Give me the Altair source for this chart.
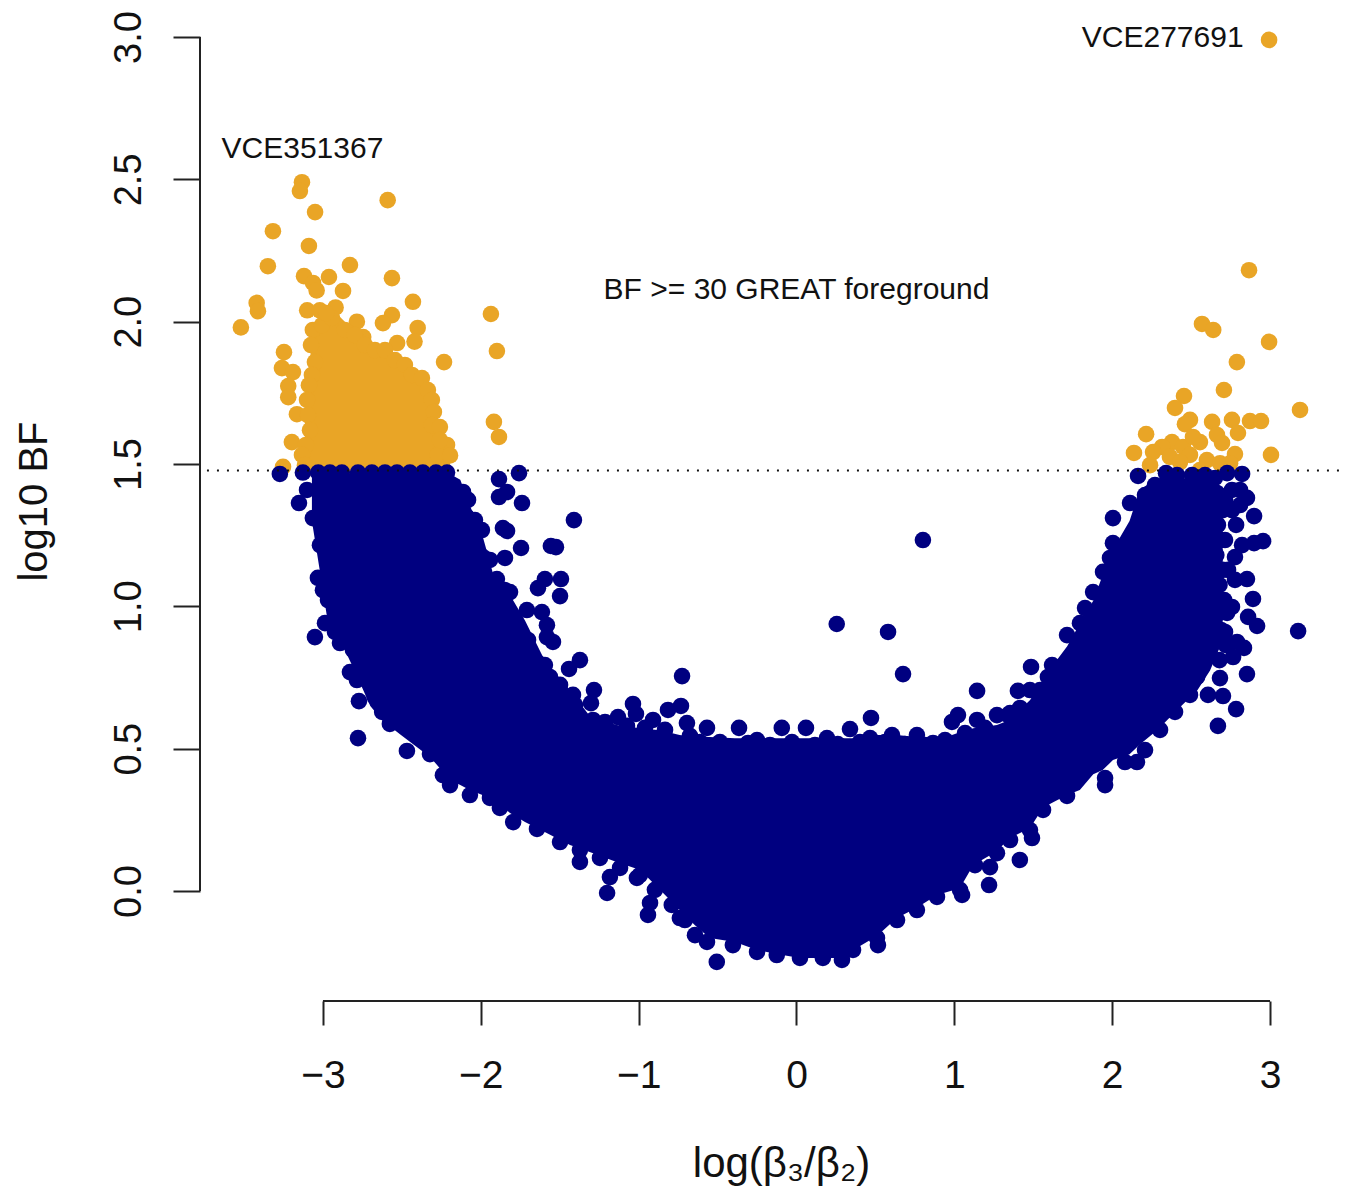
import altair as alt
import pandas as pd

FONT = "Liberation Sans"
ORANGE = "#E9A526"
NAVY = "#000080"
THRESHOLD = 1.477
POINT_SIZE = 275

# ---- gold points (log ratio, log10 BF)
gold_left_outliers = [
    (-3.133,2.49),(-3.146,2.459),(-3.05,2.385),(-2.59,2.427),(-3.317,2.318),(-3.089,2.266),(-3.349,2.195),
    (-2.829,2.199),(-3.12,2.16),(-2.962,2.157),(-2.563,2.153),(-3.063,2.136),(-2.873,2.108),(-3.04,2.11),
    (-3.42,2.066),(-3.412,2.037),(-3.52,1.98),(-2.43,2.07),(-3.10,2.04),(-3.02,2.04),(-2.92,2.05),
    (-2.563,2.023),(-2.62,1.995),(-2.40,1.978),(-2.42,1.93),(-2.53,1.925),(-2.785,2.0),(-2.745,1.946),
    (-3.247,1.893),(-3.26,1.837),(-3.19,1.823),(-2.233,1.858),(-3.22,1.774),(-3.22,1.735),(-3.165,1.675),
    (-3.197,1.577),(-3.253,1.49),(-1.936,2.027),(-1.898,1.897),(-1.917,1.648),(-1.885,1.595),
]
gold_left_edge = [
    (-3.064,1.971),(-3.076,1.918),(-3.051,1.858),(-3.07,1.813),(-3.089,1.777),(-3.101,1.725),(-3.095,1.672),
    (-3.082,1.619),(-3.108,1.567),(-3.133,1.532),(-3.114,1.496),(-3.006,1.988),(-2.943,2.013),(-2.98,2.03),(-2.861,1.971),
    (-2.798,1.953),(-2.734,1.918),(-2.671,1.9),(-2.607,1.9),(-2.544,1.865),(-2.481,1.848),(-2.436,1.813),
    (-2.373,1.802),(-2.335,1.76),(-2.31,1.725),(-2.297,1.683),(-2.31,1.637),(-2.259,1.63),(-2.214,1.567),
    (-2.272,1.532),(-2.195,1.53),(-2.259,1.584),
]
gold_right = [
    (2.994,2.99),(2.867,2.181),(2.569,1.992),(2.64,1.971),(2.994,1.929),(2.79,1.858),(2.708,1.76),(2.455,1.739),
    (2.398,1.697),(3.19,1.69),(2.493,1.655),(2.633,1.648),(2.759,1.655),(2.873,1.651),(2.943,1.651),(2.797,1.609),
    (2.461,1.64),(2.215,1.605),(2.664,1.602),(2.556,1.577),(2.696,1.574),(2.379,1.577),(2.316,1.56),(2.259,1.542),
    (2.138,1.539),(2.449,1.56),(2.512,1.595),(2.778,1.535),(3.006,1.532),(2.24,1.496),(2.366,1.525),(2.493,1.532),
    (2.6,1.514),(2.683,1.503),(2.747,1.503),(2.43,1.507),(2.556,1.479),
]
# filled core of the gold cloud: (ratio, upper value)
gold_core = [
    (-3.114,1.69),(-3.07,1.936),(-3.006,2.013),(-2.924,2.034),(-2.861,2.0),(-2.778,1.964),(-2.715,1.936),(-2.639,1.9),
    (-2.544,1.858),(-2.449,1.813),(-2.354,1.76),(-2.322,1.707),(-2.291,1.644),(-2.227,1.584),(-2.195,1.521),
]

# ---- navy points
navy_threshold_row = [
    (-3.127,1.47),(-3.03,1.47),(-2.956,1.47),(-2.88,1.47),(-2.778,1.47),(-2.69,1.47),(-2.607,1.47),(-2.531,1.47),
    (-2.449,1.47),(-2.367,1.47),(-2.284,1.47),(-2.214,1.47),
]
navy_left_upper = [
    (-2.113,1.402),(-2.081,1.374),(-2.088,1.314),(-1.993,1.268),(-1.986,1.173),(-1.898,1.096),(-1.815,1.05),
    (-1.708,0.987),(-1.771,0.917),(-1.613,0.98),(-1.581,0.934),(-1.581,0.892),(-1.543,0.875),(-1.644,0.804),
    (-1.562,0.752),(-1.403,0.653),(-1.498,0.724),(-1.594,0.794),(-1.701,0.882),(-1.847,1.057),(-1.942,1.163),
    (-2.037,1.303),
]
navy_top_band = [
    (-0.611,0.523),(-0.485,0.523),(-0.307,0.52),(-0.168,0.513),(-0.029,0.523),(0.117,0.513),(0.261,0.516),
    (0.402,0.523),(0.561,0.523),(0.687,0.516),(0.814,0.513),(0.941,0.53),(-1.213,0.594),(-1.074,0.58),
    (-0.96,0.573),(-0.833,0.566),(-0.675,0.545),(1.068,0.555),(1.194,0.573),(1.416,0.643),(1.543,0.706),
]
navy_lower_edge = [
    (-3.101,1.409),(-3.152,1.363),(-3.064,1.31),(-3.019,1.215),(-3.032,1.1),(-3.0,1.057),(-2.968,1.022),(-2.987,0.941),
    (-2.924,0.91),(-2.892,0.871),(-2.81,0.847),(-2.829,0.769),(-2.785,0.741),(-2.671,0.681),(-2.625,0.629),(-2.576,0.587),
    (-2.322,0.481),(-2.24,0.407),(-2.195,0.372),(-2.069,0.337),(-1.942,0.327),(-1.879,0.292),(-1.795,0.242),(-1.644,0.218),
    (-1.498,0.172),(-1.372,0.144),(-1.245,0.116),(-1.118,0.081),(-0.992,0.056),(-0.897,0.004),(-0.79,-0.049),(-0.707,-0.102),
    (-0.643,-0.155),(-0.567,-0.179),(-0.403,-0.19),(-0.25,-0.214),(-0.125,-0.225),(0.022,-0.235),(0.167,-0.235),(0.288,-0.242),
    (0.358,-0.207),(0.51,-0.165),(0.637,-0.102),(0.763,-0.067),(0.89,-0.021),(1.036,0.004),(1.131,0.091),(1.27,0.133),
    (1.353,0.179),(1.479,0.214),(1.562,0.285),(1.714,0.334),(1.955,0.397),(2.081,0.453),(2.208,0.495),(2.303,0.566),
    (2.398,0.629),(2.493,0.689),(2.538,0.752),
]
navy_low_outliers = [
    (-1.372,0.102),(-1.2,-0.007),(-1.182,0.049),(-1.011,0.046),(-0.941,-0.084),(-0.928,-0.042),(-0.739,-0.095),(-0.505,-0.249),
    (0.516,-0.19),(1.049,-0.014),(1.22,0.021),(1.226,0.084),(1.415,0.109),(1.492,0.186),(1.955,0.372),(2.157,0.453),
    (-2.778,0.537),(-2.772,0.667),(-2.468,0.492),(-3.051,0.892),
]
navy_high_outliers = [
    (-3.273,1.465),(-1.885,1.447),(-1.758,1.468),(-1.834,1.402),(-1.885,1.384),(-1.739,1.363),(-1.41,1.303),(-1.86,1.275),
    (-1.834,1.265),(-1.745,1.205),(-1.847,1.17),(-1.556,1.212),(-1.524,1.208),(-1.594,1.096),(-1.492,1.096),(-1.638,1.064),
    (-1.498,1.036),(-1.372,0.811),(-1.441,0.78),(-1.283,0.706),(-1.302,0.66),(-1.416,0.689),(-1.289,0.601),(-1.036,0.657),
    (-1.131,0.611),(-1.017,0.622),(-0.909,0.601),(-0.814,0.636),(-0.732,0.65),(-0.725,0.755),(-0.694,0.59),(-0.567,0.573),
    (-0.364,0.573),(-0.25,0.53),(-0.093,0.573),(0.06,0.573),(0.193,0.537),(0.339,0.569),(0.472,0.608),(0.466,0.537),
    (0.605,0.548),(0.763,0.548),(0.865,0.52),(0.985,0.594),(1.023,0.618),(1.144,0.601),(1.27,0.618),(1.34,0.618),
    (1.144,0.703),(0.675,0.762),(0.58,0.91),(0.255,0.938),(0.801,1.233),
]
navy_right_upper = [
    (1.486,0.787),(1.403,0.703),(1.479,0.706),(1.353,0.625),(1.619,0.794),(1.593,0.752),(1.714,0.899),(1.796,0.941),
    (1.828,0.994),(1.879,1.05),(1.942,1.121),(1.986,1.17),(2.005,1.222),(2.005,1.31),(2.113,1.363),(2.164,1.458),
    (2.208,1.391),(2.271,1.426),(2.341,1.468),(2.411,1.461),(2.506,1.461),(2.588,1.461),(2.651,1.451),(2.728,1.468),(2.823,1.465),
]
navy_right_side = [
    (2.854,1.381),(2.899,1.317),(2.785,1.286),(2.823,1.215),(2.899,1.222),(2.956,1.229),(2.778,1.173),(2.854,1.096),
    (2.778,1.093),(2.892,1.026),(2.861,0.963),(2.918,0.931),(3.178,0.913),(2.759,0.998),(2.728,0.977),(2.715,0.91),
    (2.791,0.875),(2.835,0.854),(2.766,0.822),(2.683,0.748),(2.854,0.762),(2.702,0.685),(2.607,0.689),(2.785,0.639),
    (2.67,0.58),(2.759,1.338),(2.715,1.233),(2.734,1.128),(2.81,1.409),(2.759,1.409),(2.81,1.356),(2.715,1.374),
    (2.68,1.391),(2.70,1.338),(2.67,1.286),(2.69,1.233),(2.66,1.18),(2.70,1.128),(2.68,1.075),(2.71,1.022),
    (2.66,0.97),(2.69,0.917),(2.72,0.864),(2.68,0.811),
]
# filled core of the navy cloud: (ratio, upper value, lower value)
navy_core = [
    (-3.07,1.45,1.30),(-3.02,1.465,1.125),(-2.975,1.465,0.965),(-2.89,1.465,0.88),(-2.80,1.465,0.775),(-2.70,1.465,0.65),
    (-2.625,1.465,0.60),(-2.51,1.465,0.55),(-2.32,1.465,0.47),(-2.195,1.465,0.39),(-2.13,1.445,0.372),(-2.07,1.355,0.355),
    (-1.99,1.25,0.337),(-1.91,1.09,0.32),(-1.815,1.04,0.274),(-1.72,0.95,0.242),(-1.595,0.81,0.207),(-1.435,0.705,0.162),
    (-1.31,0.615,0.137),(-1.14,0.583,0.102),(-0.99,0.572,0.074),(-0.865,0.565,0.004),(-0.74,0.548,-0.067),(-0.645,0.541,-0.119),
    (-0.55,0.541,-0.165),(-0.39,0.537,-0.179),(-0.25,0.537,-0.207),(-0.125,0.537,-0.221),(0.02,0.537,-0.235),(0.17,0.537,-0.235),
    (0.29,0.537,-0.235),(0.36,0.537,-0.207),(0.51,0.548,-0.158),(0.635,0.548,-0.095),(0.76,0.541,-0.06),(0.89,0.53,-0.014),
    (1.035,0.558,0.01),(1.12,0.572,0.091),(1.27,0.583,0.14),(1.35,0.601,0.186),(1.48,0.671,0.221),(1.56,0.741,0.292),
    (1.62,0.79,0.31),(1.715,0.86,0.337),(1.795,0.94,0.355),(1.88,1.02,0.41),(1.94,1.11,0.425),(2.005,1.20,0.46),
    (2.11,1.30,0.48),(2.175,1.41,0.515),(2.285,1.45,0.565),(2.41,1.45,0.635),(2.54,1.45,0.705),(2.62,1.445,0.775),
    (2.70,1.42,0.88),
]

annotations = [
    (-3.13, 2.607, "VCE351367"),
    (2.32, 2.996, "VCE277691"),
    (0.0, 2.112, "BF >= 30 GREAT foreground"),
]

x_ticks = [-3, -2, -1, 0, 1, 2, 3]
y_ticks = [0.0, 0.5, 1.0, 1.5, 2.0, 2.5, 3.0]

X_SCALE = alt.Scale(domain=[-3.779, 3.456], nice=False, zero=False)
Y_SCALE = alt.Scale(domain=[-0.3864, 3.102], nice=False, zero=False)

x_axis = alt.Axis(
    values=x_ticks, format="d", title="log(β₃/β₂)", domain=False, grid=False,
    tickSize=24, tickWidth=2, tickColor="#222222", labelFont=FONT, labelFontSize=39, labelColor="#111111",
    labelPadding=31, titleFont=FONT, titleFontSize=42, titleFontWeight="normal", titleColor="#111111",
    titlePadding=48, titleX=581,
)
y_axis = alt.Axis(
    values=y_ticks, format=".1f", title="log10 BF", domain=False, grid=False,
    tickSize=27, tickWidth=2, tickColor="#222222", labelFont=FONT, labelFontSize=38, labelColor="#111111",
    labelAngle=270, labelAlign="center", labelBaseline="alphabetic", labelPadding=33,
    titleFont=FONT, titleFontSize=40, titleFontWeight="normal", titleColor="#111111", titlePadding=56, titleY=493,
)


def pts(rows):
    return pd.DataFrame(rows, columns=["x", "y"])


def xq():
    return alt.X("x:Q", scale=X_SCALE, axis=x_axis)


def yq():
    return alt.Y("y:Q", scale=Y_SCALE, axis=y_axis)


gold_area = alt.Chart(pts(gold_core)).mark_area(color=ORANGE).encode(
    x=xq(), y=yq(), y2=alt.Y2(datum=1.46))
gold_pts = alt.Chart(pts(gold_left_outliers + gold_left_edge + gold_right)).mark_circle(
    size=POINT_SIZE, opacity=1, color=ORANGE).encode(x=xq(), y=yq())

navy_area = alt.Chart(pd.DataFrame(navy_core, columns=["x", "y", "y2"])).mark_area(color=NAVY).encode(
    x=xq(), y=yq(), y2="y2:Q")
navy_pts = alt.Chart(pts(navy_threshold_row + navy_left_upper + navy_top_band + navy_lower_edge + navy_low_outliers
                         + navy_high_outliers + navy_right_upper + navy_right_side)).mark_circle(
    size=POINT_SIZE, opacity=1, color=NAVY).encode(x=xq(), y=yq())

threshold = alt.Chart(pd.DataFrame({"x": [-3.735], "x2": [3.45], "y": [THRESHOLD]})).mark_rule(
    color="#111111", strokeWidth=2, strokeDash=[2, 8]).encode(x=xq(), x2="x2:Q", y=yq())

labels = alt.Chart(pd.DataFrame(annotations, columns=["x", "y", "t"])).mark_text(
    font=FONT, fontSize=30, color="#111111", align="center", baseline="middle").encode(
    x=xq(), y=yq(), text="t:N")

y_line = alt.Chart(pd.DataFrame({"y": [y_ticks[0]], "y2": [y_ticks[-1]]})).mark_rule(
    color="#222222", strokeWidth=2).encode(x=alt.value(0), y=yq(), y2="y2:Q")
x_line = alt.Chart(pd.DataFrame({"x": [x_ticks[0]], "x2": [x_ticks[-1]]})).mark_rule(
    color="#222222", strokeWidth=2).encode(y=alt.value(993), x=xq(), x2="x2:Q")

chart = alt.layer(gold_area, gold_pts, navy_area, navy_pts, threshold, labels, y_line, x_line).properties(
    width=1142, height=993, background="white",
    padding={"left": 192, "top": 0, "right": 0, "bottom": 188},
    autosize=alt.AutoSizeParams(type="none"),
).configure_view(stroke=None)

chart.save("out.html", embed_options={"renderer": "svg", "actions": False})
